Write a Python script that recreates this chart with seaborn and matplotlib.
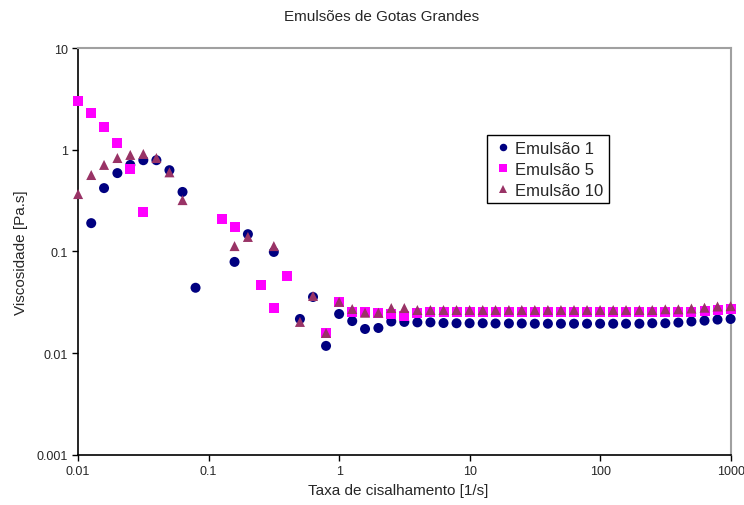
import numpy as np
import pandas as pd
import matplotlib
matplotlib.use('Agg')
import matplotlib.pyplot as plt
import seaborn as sns

# taxa de cisalhamento [1/s], 10 pontos por década
taxa = [0.01, 0.0126, 0.0158, 0.02, 0.0251, 0.0316, 0.0398, 0.0501, 0.0631, 0.0794,
        0.1, 0.126, 0.158, 0.2, 0.251, 0.316, 0.398, 0.501, 0.631, 0.794,
        1, 1.26, 1.58, 2, 2.51, 3.16, 3.98, 5.01, 6.31, 7.94,
        10, 12.6, 15.8, 20, 25.1, 31.6, 39.8, 50.1, 63.1, 79.4,
        100, 126, 158, 200, 251, 316, 398, 501, 631, 794, 1000]

nan = np.nan
emulsao_1 = [nan, 0.19, 0.42, 0.59, 0.71, 0.79, 0.79, 0.63, 0.385, 0.044,
             nan, nan, 0.079, 0.148, nan, 0.099, nan, 0.0217, 0.0357, 0.0118,
             0.0243, 0.0207, 0.0173, 0.0177, 0.0205, 0.0203, 0.0201, 0.0201, 0.0198, 0.0197,
             0.0197, 0.0197, 0.0196, 0.0196, 0.0196, 0.0195, 0.0195, 0.0195, 0.0195, 0.0195,
             0.0195, 0.0195, 0.0195, 0.0195, 0.0197, 0.0197, 0.0200, 0.0205, 0.0209, 0.0214, 0.0217]
emulsao_5 = [3.0, 2.3, 1.67, 1.16, 0.65, 0.244, nan, nan, nan, nan,
             nan, 0.21, 0.174, nan, 0.047, 0.028, 0.057, nan, nan, 0.0158,
             0.032, 0.0256, 0.0256, 0.025, 0.0243, 0.0232, 0.025, 0.0253, 0.0253, 0.0253,
             0.0253, 0.0253, 0.0253, 0.0253, 0.0253, 0.0253, 0.0253, 0.0253, 0.0253, 0.0253,
             0.0253, 0.0253, 0.0253, 0.0253, 0.0253, 0.0253, 0.0254, 0.0256, 0.026, 0.0263, 0.027]
emulsao_10 = [0.367, 0.565, 0.71, 0.83, 0.89, 0.91, 0.83, 0.60, 0.32, nan,
              nan, nan, 0.113, 0.139, nan, 0.113, nan, 0.0203, 0.0365, 0.0158,
              0.032, 0.0272, 0.025, 0.025, 0.0278, 0.0278, 0.0266, 0.0266, 0.0266, 0.0266,
              0.0266, 0.0266, 0.0266, 0.0266, 0.0266, 0.0266, 0.0266, 0.0266, 0.0266, 0.0266,
              0.0266, 0.0266, 0.0266, 0.0266, 0.0266, 0.027, 0.027, 0.0275, 0.028, 0.0288, 0.029]

series = ['Emulsão 1', 'Emulsão 5', 'Emulsão 10']
cores = {'Emulsão 1': '#000080', 'Emulsão 5': '#FF00FF', 'Emulsão 10': '#993366'}
marcadores = {'Emulsão 1': 'o', 'Emulsão 5': 's', 'Emulsão 10': '^'}

df = pd.DataFrame({
    'taxa': taxa * 3,
    'visc': emulsao_1 + emulsao_5 + emulsao_10,
    'serie': [series[0]] * len(taxa) + [series[1]] * len(taxa) + [series[2]] * len(taxa),
}).dropna()

sns.set_style('white')
plt.rcParams['font.family'] = ['Liberation Sans', 'DejaVu Sans']

fig, ax = plt.subplots(figsize=(7.44, 5.06), dpi=100)
fig.subplots_adjust(left=0.105, right=0.982, top=0.903, bottom=0.099)

sns.scatterplot(data=df, x='taxa', y='visc', hue='serie', style='serie',
                hue_order=series, style_order=series,
                palette=cores, markers=marcadores, s=52, linewidth=0,
                clip_on=False, zorder=3, ax=ax)

ax.set_xscale('log')
ax.set_yscale('log')
ax.set_xlim(0.01, 1000)
ax.set_ylim(0.001, 10)
ax.set_xticks([0.01, 0.1, 1, 10, 100, 1000])
ax.set_xticklabels(['0.01', '0.1', '1', '10', '100', '1000'])
ax.set_yticks([0.001, 0.01, 0.1, 1, 10])
ax.set_yticklabels(['0.001', '0.01', '0.1', '1', '10'])
ax.minorticks_off()
ax.tick_params(axis='both', which='major', direction='out', length=4, width=1,
               color='black', labelsize=9, left=True, bottom=True)

for lado in ['left', 'bottom']:
    ax.spines[lado].set_color('black')
    ax.spines[lado].set_linewidth(1.2)
for lado in ['top', 'right']:
    ax.spines[lado].set_color('#a0a0a0')
    ax.spines[lado].set_linewidth(1.5)

ax.set_xlabel('Taxa de cisalhamento [1/s]', fontsize=11, labelpad=4, x=0.49)
ax.set_ylabel('Viscosidade [Pa.s]', fontsize=11, labelpad=6)
ax.set_title('Emulsões de Gotas Grandes', fontsize=11, pad=20, x=0.465)

handles, labels = ax.get_legend_handles_labels()
leg = ax.legend(handles, labels, loc='upper left', bbox_to_anchor=(0.627, 0.786),
                borderaxespad=0, fontsize=12, frameon=True, fancybox=False,
                edgecolor='black', framealpha=1, handletextpad=0.1,
                handlelength=1.2, labelspacing=0.35, borderpad=0.35, markerscale=0.75)
leg.get_frame().set_linewidth(1.0)

plt.savefig('out.png', dpi=100)
plt.close()
